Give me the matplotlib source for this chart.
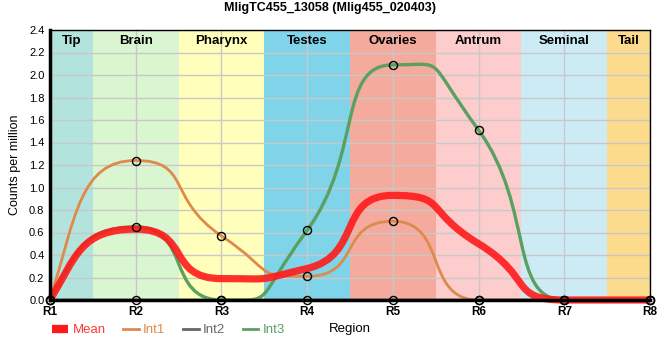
import matplotlib
matplotlib.use("Agg")
import matplotlib.pyplot as plt
import numpy as np
from matplotlib.path import Path
from matplotlib.patches import PathPatch
from matplotlib.lines import Line2D

regions = ["R1", "R2", "R3", "R4", "R5", "R6", "R7", "R8"]
tissues = ["Tip", "Brain", "Pharynx", "Testes", "Ovaries", "Antrum", "Seminal", "Tail"]
tissue_colors = ["#b3e3dd", "#d9f6d0", "#ffffbb", "#7fd4ea", "#f4ab9d", "#fdcccd", "#cdebf5", "#fddb8d"]

int1 = [0.0, 1.24, 0.57, 0.21, 0.70, 0.0, 0.0, 0.0]
int2 = [0.0, 0.0, 0.0, 0.0, 0.0, 0.0, 0.0, 0.0]
int3 = [0.0, 0.65, 0.0, 0.62, 2.09, 1.51, 0.0, 0.0]
mean = [0.0, 0.63, 0.19, 0.28, 0.93, 0.50, 0.0, 0.0]


def monotone_path(xs, ys, k=0.65, k_end=0.3):
    # monotone tangents, bezier handles k * dx long (flatter plateaus)
    xs = np.asarray(xs, float)
    ys = np.asarray(ys, float)
    n = len(xs)
    t = np.zeros(n)
    for i in range(1, n - 1):
        h0 = xs[i] - xs[i - 1]
        h1 = xs[i + 1] - xs[i]
        s0 = (ys[i] - ys[i - 1]) / h0
        s1 = (ys[i + 1] - ys[i]) / h1
        p = (s0 * h1 + s1 * h0) / (h0 + h1)
        t[i] = (np.sign(s0) + np.sign(s1)) * min(abs(s0), abs(s1), 0.5 * abs(p))
    t[0] = 2 * (ys[1] - ys[0]) / (xs[1] - xs[0]) - t[1]
    t[-1] = 2 * (ys[-1] - ys[-2]) / (xs[-1] - xs[-2]) - t[-2]
    verts = [(xs[0], ys[0])]
    codes = [Path.MOVETO]
    for i in range(n - 1):
        w = xs[i + 1] - xs[i]
        da = w * (k_end if i == 0 else k)
        db = w * (k_end if i == n - 2 else k)
        verts += [(xs[i] + da, ys[i] + da * t[i]),
                  (xs[i + 1] - db, ys[i + 1] - db * t[i + 1]),
                  (xs[i + 1], ys[i + 1])]
        codes += [Path.CURVE4] * 3
    return Path(verts, codes)


plt.rcParams["font.family"] = ["Liberation Sans", "DejaVu Sans"]

fig = plt.figure(figsize=(6.6, 3.6), dpi=100)
ax = fig.add_axes([50 / 660, 60 / 360, 600 / 660, 270 / 360])

x = np.arange(len(regions))
xmax = len(regions) - 1
for i, (name, c) in enumerate(zip(tissues, tissue_colors)):
    lo, hi = max(i - 0.5, 0), min(i + 0.5, xmax)
    ax.axvspan(lo, hi, color=c, zorder=0, lw=0)
    ax.text((lo + hi) / 2, 2.305, name, ha="center", va="center", fontsize=9.5,
            fontweight="bold", zorder=5)

ax.set_xlim(0, xmax)
ax.set_ylim(0, 2.4)
yt = np.arange(0, 2.41, 0.2)
ax.set_yticks(yt)
ax.set_yticklabels([f"{v:.1f}" for v in yt], fontsize=8)
ax.set_xticks(x)
ax.set_xticklabels(regions, fontsize=8.5, fontweight="bold")
ax.grid(True, color="#c8c8c8", lw=1, zorder=1)
ax.set_axisbelow(True)
ax.tick_params(length=0, pad=4)

series = [("Int1", int1, "#dd8a4a", 2.0),
          ("Int2", int2, "#666666", 2.0),
          ("Int3", int3, "#5aa061", 2.4)]

for name, vals, c, lw in series:
    ax.add_patch(PathPatch(monotone_path(x, vals), fill=False, ec=c, lw=lw,
                           zorder=3))

ax.add_patch(PathPatch(monotone_path(x, mean), fill=False, ec="#ff1a1a", lw=5.2,
                       alpha=0.9, zorder=4, clip_on=False))

for name, vals, c, lw in series:
    ax.plot(x, vals, ls="none", marker="o", ms=5.8, mfc="none", mec="black",
            mew=1, zorder=6, clip_on=False)

for s in ["top", "right"]:
    ax.spines[s].set_linewidth(1)
ax.spines["left"].set_linewidth(2.5)
ax.spines["bottom"].set_linewidth(2.5)
for s in ax.spines.values():
    s.set_zorder(5)

ax.set_ylabel("Counts per million", fontsize=9, labelpad=6)
ax.set_xlabel("Region", fontsize=9.5, labelpad=4)
fig.text(0.5, 1 - 8 / 360, "MligTC455_13058 (Mlig455_020403)", ha="center",
         va="center", fontsize=9, fontweight="bold")

handles = [Line2D([], [], color="#ff1a1a", lw=6, solid_capstyle="butt"),
           Line2D([], [], color="#dd8a4a", lw=2),
           Line2D([], [], color="#666666", lw=2),
           Line2D([], [], color="#5aa061", lw=2)]
labels = ["Mean", "Int1", "Int2", "Int3"]
leg = fig.legend(handles, labels, loc="center left", bbox_to_anchor=(52 / 660, 30 / 360),
                 ncol=4, frameon=False, fontsize=9.5, handlelength=1.2,
                 handletextpad=0.35, columnspacing=1.3, borderaxespad=0,
                 borderpad=0)
for txt, c in zip(leg.get_texts(), ["#ff3838", "#dd8a4a", "#666666", "#5aa061"]):
    txt.set_color(c)

fig.savefig("out.png", dpi=100)
